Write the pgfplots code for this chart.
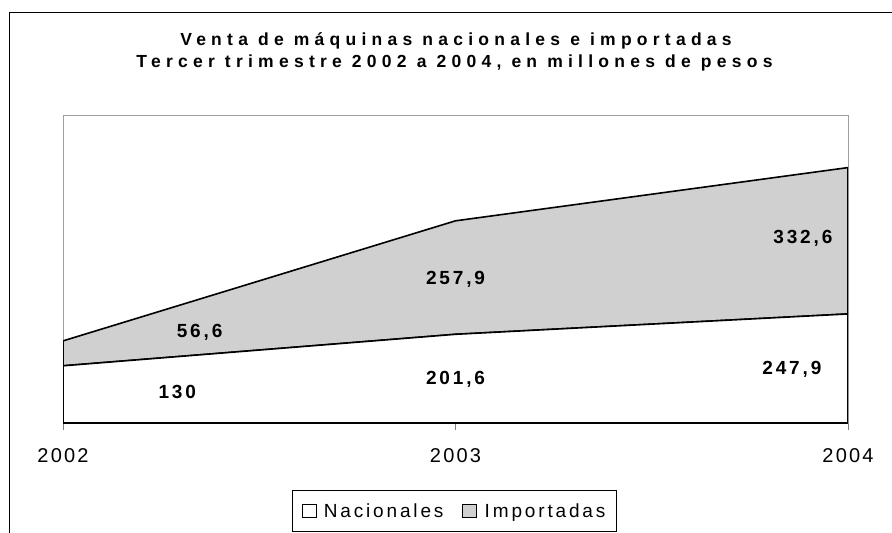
\documentclass[border=0pt]{standalone}
\usepackage{fontspec}
\setmainfont{Liberation Sans}
\newfontfamily\ttlfont{Liberation Sans Bold}[LetterSpace=30]
\newfontfamily\lblfont{Liberation Sans Bold}[LetterSpace=15]
\newfontfamily\tickfont{Liberation Sans}[LetterSpace=11]
\newfontfamily\legfont{Liberation Sans}[LetterSpace=15]
\usepackage{pgfplots}
\pgfplotsset{compat=1.18}
\definecolor{areagray}{RGB}{208,208,208}
\definecolor{framegray}{RGB}{160,160,160}
\begin{document}
\begin{tikzpicture}
\useasboundingbox (-63bp,-110bp) rectangle (829bp,423bp);
\draw[line width=1bp] (-53.5bp,-115bp) -- (-53.5bp,410.5bp) -- (835bp,410.5bp);
\begin{axis}[
  scale only axis, width=785bp, height=308bp,
  xmin=2002, xmax=2004, ymin=0, ymax=700,
  stack plots=y,
  axis line style={framegray, line width=1bp},
  xtick={2002,2003,2004}, xticklabels={2002,2003,2004},
  ytick=\empty,
  xtick pos=lower,
  tick align=outside, major tick length=7bp,
  xtick style={draw=gray, line width=1bp},
  xticklabel style={font=\tickfont\fontsize{20bp}{24bp}\selectfont, anchor=base, yshift=-32bp},
  legend image code/.code={\draw[#1, line width=0.9bp] (0bp,-6.5bp) rectangle (14bp,6.5bp); \path (19bp,0bp);},
  legend style={at={(rel axis cs:0.4987,-0.2857)}, anchor=center, draw=black, line width=0.9bp,
    font=\legfont\fontsize{19bp}{22bp}\selectfont, legend columns=2,
    inner xsep=9bp, inner ysep=10.5bp,
    /tikz/every even column/.append style={column sep=17bp}},
]
\addplot[fill=white, draw=black, line width=1.6bp] coordinates {(2002,130) (2003,201.6) (2004,247.9)} \closedcycle;
\addlegendentry{Nacionales}
\addplot[fill=areagray, draw=black, line width=1.6bp] coordinates {(2002,56.6) (2003,257.9) (2004,332.6)} \closedcycle;
\addlegendentry{Importadas\hspace{6bp}}
\draw[black, line width=1bp] (rel axis cs:0,0) -- (rel axis cs:1,0);
\coordinate (a1) at (axis cs:2002.291,56.1);
\coordinate (a2) at (axis cs:2002.348,194.8);
\coordinate (b1) at (axis cs:2003,86.4);
\coordinate (b2) at (axis cs:2003,315.2);
\coordinate (c1) at (axis cs:2003.857,109.1);
\coordinate (c2) at (axis cs:2003.885,408.4);
\end{axis}
\begin{scope}[every node/.style={anchor=base, font=\lblfont\fontsize{19bp}{22bp}\selectfont}]
\node at (a1) {130};
\node at (a2) {56,6};
\node at (b1) {201,6};
\node at (b2) {257,9};
\node at (c1) {247,9};
\node at (c2) {332,6};
\end{scope}
\node[anchor=base, font=\ttlfont\fontsize{17.5bp}{20bp}\selectfont] at (393bp,377.3bp) {Venta de máquinas nacionales e importadas};
\node[anchor=base, font=\ttlfont\fontsize{17.5bp}{20bp}\selectfont] at (391.5bp,355.3bp) {Tercer trimestre 2002 a 2004, en millones de pesos};
\end{tikzpicture}
\end{document}
